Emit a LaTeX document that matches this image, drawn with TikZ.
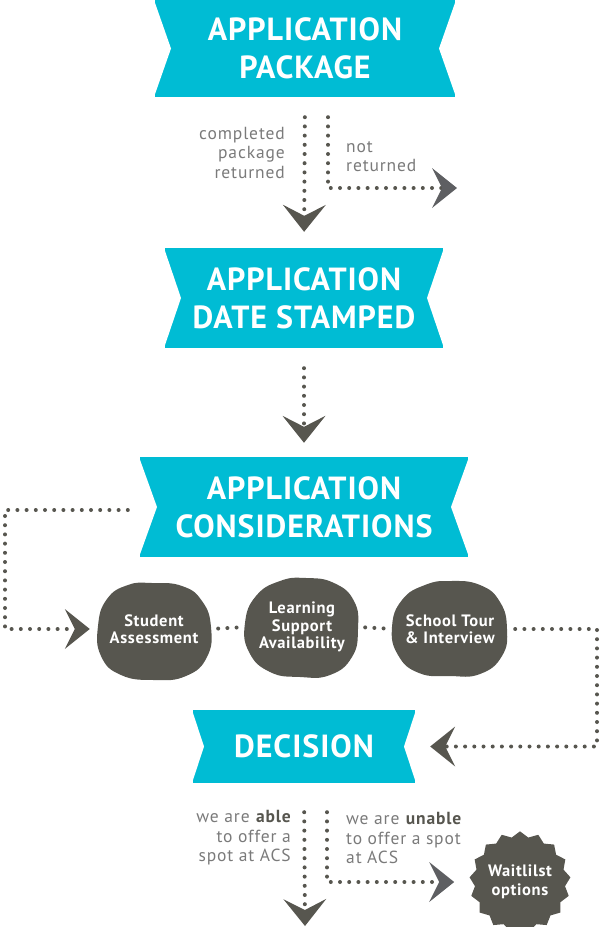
\documentclass[tikz,border=0pt]{standalone}
\usepackage{fontspec}
\setmainfont{PT Sans}
\usetikzlibrary{arrows.meta, shapes.geometric, backgrounds, calc}
\definecolor{ribbon}{HTML}{00BCD4}
\definecolor{stone}{HTML}{57564F}
\definecolor{slate}{HTML}{5E5F62}
\definecolor{greytext}{HTML}{7A7A7A}
\tikzset{
  % ribbons with notched ends
  banner/.style={fill=ribbon, text=white, inner sep=0pt, align=center,
    font=\bfseries\fontsize{32}{38}\selectfont\addfontfeatures{LetterSpace=3}, minimum height=100pt,
    path picture={
      \fill[white] ([xshift=-1pt]path picture bounding box.north west)
        -- ([xshift=#1]path picture bounding box.west)
        -- ([xshift=-1pt]path picture bounding box.south west) -- cycle;
      \fill[white] ([xshift=1pt]path picture bounding box.north east)
        -- ([xshift=-#1]path picture bounding box.east)
        -- ([xshift=1pt]path picture bounding box.south east) -- cycle;}},
  banner/.default=16pt,
  % texts
  note/.style={text=greytext, font=\fontsize{17.5}{19.5}\selectfont\addfontfeatures{LetterSpace=5}, inner sep=0pt},
  stonetext/.style={text=white, font=\bfseries\fontsize{16.5}{17.5}\selectfont\addfontfeatures{LetterSpace=4},
    align=center, inner sep=0pt, minimum width=112pt, minimum height=96pt},
  % connectors
  dotline/.style={draw=stone, line width=4pt, line cap=round, dash pattern=on 0pt off 9.2pt},
  chevdown/.style={-{Stealth[length=27pt,width=43pt,inset=11pt,line width=0pt,fill=#1]}},
  chevdown/.default=stone,
  chevside/.style={-{Stealth[length=25pt,width=40pt,inset=10pt,line width=0pt,fill=#1]}},
  chevside/.default=stone
}
\begin{document}
\begin{tikzpicture}[x=1pt,y=-1pt]
  \useasboundingbox (0,0) rectangle (600,927);
  % ribbons
  \node[banner, minimum width=300pt, minimum height=97pt] (pkg) at (305,48.5) {APPLICATION\\PACKAGE};
  \node[banner, minimum width=278pt] (stamp) at (304,298) {APPLICATION\\DATE STAMPED};
  \node[banner=17pt, minimum width=328pt] (cons) at (304,507) {APPLICATION\\CONSIDERATIONS};
  \node[banner=11pt, minimum width=222pt, minimum height=73pt] (decis) at (304,746.5) {DECISION};
  % stones
  \node[stonetext] (assess) at (154,629) {Student\\Assessment};
  \node[stonetext] (learn)  at (302,627) {Learning\\Support\\Availability};
  \node[stonetext] (tour)   at (450,629) {School Tour\\\& Interview};
  \node[star, star points=17, star point ratio=1.12, fill=stone, minimum size=96pt,
        text=white, font=\bfseries\fontsize{16.5}{19}\selectfont\addfontfeatures{LetterSpace=4}, align=center,
        inner sep=0pt] (wait) at (520,882) {Waitlilst\\options};
  \begin{scope}[on background layer]
    \fill[stone, shift={(assess)}] plot[smooth cycle, tension=0.8] coordinates {
      (-2,-46) (28,-43) (48,-28) (57,-2) (53,28) (32,47) (0,51) (-33,46) (-53,27) (-56,-3) (-47,-30) (-26,-44)};
    \fill[stone, shift={(learn)}] plot[smooth cycle, tension=0.8] coordinates {
      (4,-49) (32,-44) (52,-26) (56,2) (50,30) (28,48) (-2,50) (-32,45) (-53,25) (-57,-4) (-46,-31) (-22,-46)};
    \fill[stone, shift={(tour)}] plot[smooth cycle, tension=0.8] coordinates {
      (0,-48) (30,-44) (50,-27) (57,0) (52,27) (30,45) (0,47) (-31,44) (-52,26) (-58,-2) (-48,-29) (-25,-44)};
  \end{scope}
  % notes
  \node[note, align=right, anchor=east] (done) at (285,152.5) {completed\\package\\returned};
  \node[note, align=left, anchor=west] (notdone) at (346,156.5) {not\\returned};
  \node[note, align=right, anchor=east] (able) at (291,838) {we are \textbf{\color{stone}able}\\to offer a\\spot at ACS};
  \node[note, align=left, anchor=west] (unable) at (346,838) {we are \textbf{\color{stone}unable}\\to offer a spot\\at ACS};
  % free ends
  \coordinate (notret) at (457,188);
  \coordinate (leftturn) at (5,510);
  \coordinate (rightturn) at (597,629);
  \coordinate (bottomend) at (305,926);
  % connectors
  \draw[dotline, chevdown, shorten <=20pt, shorten >=16pt] (pkg.south) -- (stamp.north);
  \draw[dotline, chevside=slate, shorten <=20pt] ([xshift=23pt]pkg.south) |- (notret);
  \draw[dotline, chevdown, shorten <=20pt, shorten >=14pt] (stamp.south) -- (cons.north);
  \draw[dotline, chevside, shorten <=12pt, shorten >=8pt] ([yshift=-3pt]cons.west) -- (leftturn) |- (assess.west);
  \draw[dotline, shorten <=8pt, shorten >=8pt] (assess.east) -- (learn.west);
  \draw[dotline, shorten <=7pt, shorten >=8pt] (learn.east) -- (tour.west);
  \draw[dotline, chevside, shorten <=9pt, shorten >=15pt] (tour.east) -- (rightturn) |- (decis.east);
  \draw[dotline, chevdown, shorten <=29pt] (decis.south) -- (bottomend);
  \draw[dotline, chevside=slate, shorten <=29pt, shorten >=18pt] ([xshift=23pt]decis.south) |- (wait.west);
\end{tikzpicture}
\end{document}
